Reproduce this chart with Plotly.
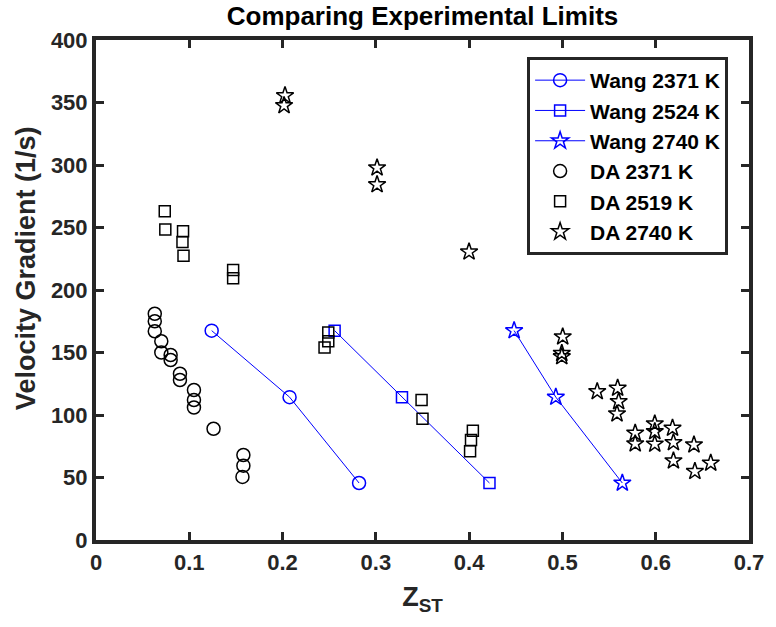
import plotly.graph_objects as go

# Wang model curves (shared y values)
wang_y = [167.5, 114.3, 45.6]
wang2371_x = [0.124, 0.2075, 0.282]
wang2524_x = [0.2558, 0.328, 0.4218]
wang2740_x = [0.4482, 0.4929, 0.5642]

# DA experimental data
da2371_x = [0.063, 0.063, 0.063, 0.070, 0.070, 0.080, 0.080, 0.090, 0.090,
            0.105, 0.105, 0.105, 0.126, 0.158, 0.158, 0.157]
da2371_y = [181, 175, 167, 159, 150, 148, 144, 133, 128,
            120, 112, 106, 89, 68, 59.5, 50.5]

da2519_x = [0.0737, 0.0743, 0.0933, 0.0927, 0.0938, 0.147, 0.147,
            0.249, 0.249, 0.245, 0.349, 0.350, 0.404, 0.402, 0.401]
da2519_y = [263, 248.5, 247, 238.5, 227.5, 216, 209.5,
            166, 159, 154, 112, 97, 87.5, 80, 71]

da2740_x = [0.2026, 0.2016, 0.3013, 0.3013, 0.3999, 0.5003, 0.4993, 0.4993,
            0.5373, 0.5592, 0.5603, 0.5585, 0.578, 0.578, 0.599, 0.599, 0.599,
            0.618, 0.619, 0.619, 0.641, 0.642, 0.659]
da2740_y = [355.5, 347.6, 297.8, 284.3, 230.5, 162.6, 149.4, 146.7,
            118.8, 121.5, 110.8, 101, 85.6, 77, 93, 86.8, 76.8,
            89.5, 78, 63.4, 76.2, 54.9, 61.6]

x_ticks = [0, 0.1, 0.2, 0.3, 0.4, 0.5, 0.6, 0.7]
y_ticks = [0, 50, 100, 150, 200, 250, 300, 350, 400]

BLUE = "#0000FF"
BLACK = "#000000"
AX = "#262626"

fig = go.Figure()

for name, xs, sym, sz in [
    ("Wang 2371 K", wang2371_x, "circle-open", 13),
    ("Wang 2524 K", wang2524_x, "square-open", 11),
    ("Wang 2740 K", wang2740_x, "star-open", 13),
]:
    fig.add_trace(go.Scatter(
        x=xs, y=wang_y, name=name, mode="lines+markers",
        line=dict(color=BLUE, width=1),
        marker=dict(symbol=sym, size=sz, color=BLUE, line=dict(color=BLUE, width=1.5)),
    ))

for name, xs, ys, sym, sz in [
    ("DA 2371 K", da2371_x, da2371_y, "circle-open", 13),
    ("DA 2519 K", da2519_x, da2519_y, "square-open", 11),
    ("DA 2740 K", da2740_x, da2740_y, "star-open", 13),
]:
    fig.add_trace(go.Scatter(
        x=xs, y=ys, name=name, mode="markers",
        marker=dict(symbol=sym, size=sz, color=BLACK, line=dict(color=BLACK, width=1.5)),
    ))

FONT = "Liberation Sans"

axis_common = dict(
    showline=True, linewidth=4, linecolor=AX, mirror="ticks",
    ticks="inside", ticklen=8, tickwidth=3, tickcolor=AX,
    showgrid=False, zeroline=False,
    tickfont=dict(family=FONT, size=22, color=AX, weight="bold"),
)

fig.update_layout(
    width=776, height=627,
    margin=dict(l=96, r=18, t=40, b=87),
    paper_bgcolor="white", plot_bgcolor="white",
    title=dict(text="Comparing Experimental Limits", x=0.5, xref="paper",
               y=0.975, yanchor="middle",
               font=dict(family=FONT, size=26, color=BLACK, weight="bold")),
    xaxis=dict(range=[0, 0.7], tickvals=x_ticks, ticktext=[str(v) for v in x_ticks],
               title=dict(text="Z<sub>ST</sub>", standoff=14,
                          font=dict(family=FONT, size=27, color=AX, weight="bold")),
               **axis_common),
    yaxis=dict(range=[0, 400], tickvals=y_ticks, **axis_common),
    legend=dict(x=0.968, y=0.966, xanchor="right", yanchor="top",
                bgcolor="white", bordercolor=AX, borderwidth=3,
                font=dict(family=FONT, size=21, color=BLACK, weight="bold"),
                itemwidth=50),
    showlegend=True,
    annotations=[dict(
        text="Velocity Gradient (1/s)", textangle=-90,
        xref="paper", yref="paper", x=-0.107, y=0.544,
        xanchor="center", yanchor="middle", showarrow=False,
        font=dict(family=FONT, size=27, color=AX, weight="bold"),
    )],
)

fig.write_html("out.html")
